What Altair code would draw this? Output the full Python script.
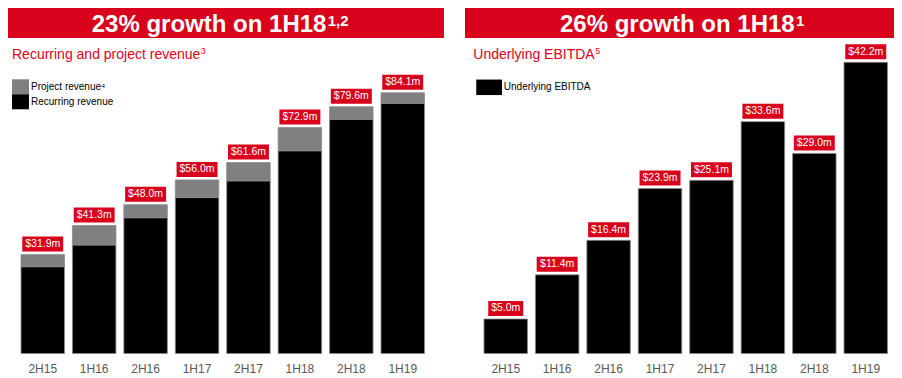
import altair as alt
import pandas as pd

# ---------------- data ----------------
periods = ["2H15", "1H16", "2H16", "1H17", "2H17", "1H18", "2H18", "1H19"]
recurring = [28.0, 35.0, 43.8, 50.3, 55.7, 65.4, 75.6, 80.7]
project = [3.9, 6.3, 4.2, 5.7, 5.9, 7.5, 4.0, 3.4]
revenue_total = [31.9, 41.3, 48.0, 56.0, 61.6, 72.9, 79.6, 84.1]
ebitda = [5.0, 11.4, 16.4, 23.9, 25.1, 33.6, 29.0, 42.2]

seg_project = "Project revenue\u2074"
seg_recurring = "Recurring revenue"
ebitda_name = "Underlying EBITDA"

left_title = ["23% growth on 1H18", "1,2"]
right_title = ["26% growth on 1H18", "1"]
left_sub = ["Recurring and project revenue", "3"]
right_sub = ["Underlying EBITDA", "5"]

# ---------------- style ----------------
RED = "#d9001b"
SUBRED = "#e2001a"
FONT = "Liberation Sans, Arial, sans-serif"
H = 345.5
WL, WR = 436, 429

rev_long = pd.DataFrame(
    {"period": periods * 2,
     "segment": [seg_recurring] * len(periods) + [seg_project] * len(periods),
     "value": recurring + project}
)
rev_tot = pd.DataFrame({"period": periods, "total": revenue_total})
eb_df = pd.DataFrame({"period": periods, "total": ebitda, "series": [ebitda_name] * len(periods)})

box_short = "M-2.33,-1H2.33V1H-2.33Z"
box_long = "M-2.73,-1H2.73V1H-2.73Z"


def x_enc(pi, po, al):
    return alt.X(
        "period:N", sort=periods, title=None,
        scale=alt.Scale(paddingInner=pi, paddingOuter=po, align=al),
        axis=alt.Axis(labelAngle=0, domain=False, ticks=False, tickSize=0, labelPadding=9.5,
                      labelFontSize=12, labelColor="#595959", labelFont=FONT, grid=False),
    )


def header(width, title, sub, tx, sx):
    one = pd.DataFrame({"t": [title[0]], "s": [title[1]], "u": [sub[0]], "v": [sub[1]]})
    base = alt.Chart(one)
    rect = base.mark_rect(color=RED).encode(
        x=alt.value(0), x2=alt.value(width), y=alt.value(0), y2=alt.value(30))
    t1 = base.mark_text(align="left", baseline="alphabetic", font=FONT, fontSize=24,
                        fontWeight="bold", color="white").encode(
        x=alt.value(tx), y=alt.value(24), text="t:N")
    t2 = base.mark_text(align="left", baseline="alphabetic", font=FONT, fontSize=15,
                        fontWeight="bold", color="white").encode(
        x=alt.value(tx + 236), y=alt.value(17.5), text="s:N")
    s1 = base.mark_text(align="left", baseline="alphabetic", font=FONT, fontSize=14,
                        color=SUBRED).encode(
        x=alt.value(sx[0]), y=alt.value(51.3), text="u:N")
    s2 = base.mark_text(align="left", baseline="alphabetic", font=FONT, fontSize=9,
                        color=SUBRED).encode(
        x=alt.value(sx[1]), y=alt.value(46), text="v:N")
    return [rect, t1, t2, s1, s2]


def value_labels(df, xe, ymax, yoff):
    base = alt.Chart(df).transform_calculate(
        label="'$' + format(datum.total, '.1f') + 'm'",
        box="length(datum.label) < 6 ? 'short' : 'long'",
    )
    ye = alt.Y("total:Q", scale=alt.Scale(domain=[0, ymax], nice=False), axis=None)
    boxes = base.mark_point(filled=True, size=225, color=RED, opacity=1, strokeWidth=0,
                            yOffset=yoff).encode(
        x=xe, y=ye,
        shape=alt.Shape("box:N", scale=alt.Scale(domain=["short", "long"],
                                                 range=[box_short, box_long]), legend=None))
    texts = base.mark_text(baseline="middle", font=FONT, fontSize=10.5, color="white",
                           yOffset=yoff).encode(x=xe, y=ye, text="label:N")
    return [boxes, texts]


# ---------------- left panel ----------------
YL = 111.45
xl = x_enc(0.154, 0.316, 0.4)
left_bars = alt.Chart(rev_long).transform_calculate(
    rank=f"datum.segment == '{seg_recurring}' ? 0 : 1"
).mark_bar(stroke="#8c8c8c", strokeWidth=0.8).encode(
    x=xl,
    y=alt.Y("value:Q", stack="zero", scale=alt.Scale(domain=[0, YL], nice=False), axis=None),
    color=alt.Color("segment:N",
                    scale=alt.Scale(domain=[seg_project, seg_recurring], range=["#808080", "#000000"]),
                    legend=alt.Legend(orient="none", legendX=5, legendY=71.3, title=None,
                                      symbolType="M-1.13,-1H1.13V1H-1.13Z", symbolSize=225,
                                      symbolStrokeWidth=0, symbolOpacity=1, labelFontSize=10,
                                      labelFont=FONT, labelColor="#000000", rowPadding=0,
                                      labelOffset=3, padding=0)),
    order=alt.Order("rank:Q"),
)
left = alt.layer(
    *header(WL, left_title, left_sub, 83.7, (4, 192.8)),
    left_bars,
    *value_labels(rev_tot, xl, YL, -10.5),
).properties(width=WL, height=H)

# ---------------- right panel ----------------
YR = 50.07
xr = x_enc(0.154, 0.2477, 0.745)
right_bars = alt.Chart(eb_df).mark_bar(stroke="#8c8c8c", strokeWidth=0.8).encode(
    x=xr,
    y=alt.Y("total:Q", scale=alt.Scale(domain=[0, YR], nice=False), axis=None),
    color=alt.Color("series:N",
                    scale=alt.Scale(domain=[ebitda_name], range=["#000000"]),
                    legend=alt.Legend(orient="none", legendX=16.1, legendY=71.3, title=None,
                                      symbolType="M-1.66,-1H1.66V1H-1.66Z", symbolSize=240,
                                      symbolStrokeWidth=0, symbolOpacity=1, labelFontSize=10,
                                      labelFont=FONT, labelColor="#000000", rowPadding=0,
                                      labelOffset=6.7, padding=0)),
)
right = alt.layer(
    *header(WR, right_title, right_sub, 95, (8.3, 130.2)),
    right_bars,
    *value_labels(eb_df[["period", "total"]], xr, YR, -10.5),
).properties(width=WR, height=H)

chart = alt.hconcat(left, right, spacing=21, padding=0, background="white").resolve_scale(
    x="independent", y="independent", color="independent", shape="independent"
).resolve_legend(color="independent").configure_view(stroke=None)

chart.save("out.html", embed_options={"renderer": "svg", "actions": False})
